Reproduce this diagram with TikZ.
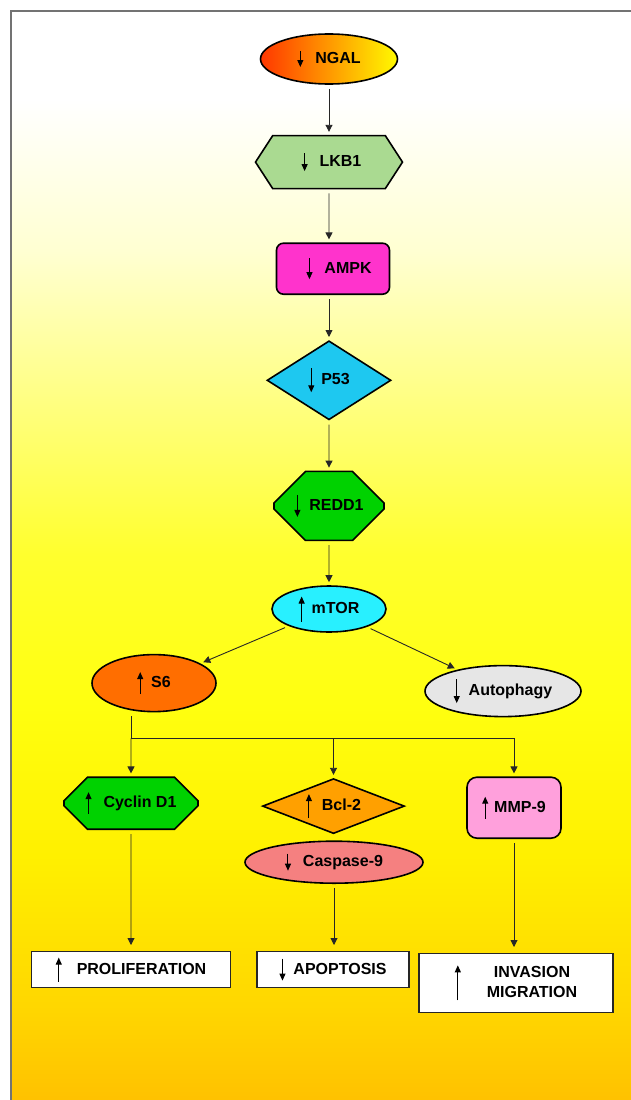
\documentclass[tikz,border=0pt]{standalone}
\usepackage{fontspec}
\setmainfont{Liberation Sans}
\usepackage{tikz}
\usetikzlibrary{shapes.geometric, shapes.misc, shapes.symbols, arrows.meta, positioning, calc}

\definecolor{ngalA}{RGB}{255,55,0}
\definecolor{ngalB}{RGB}{255,250,0}
\definecolor{lkbgreen}{RGB}{170,218,145}
\definecolor{ampkpink}{RGB}{255,51,204}
\definecolor{p53blue}{RGB}{30,200,240}
\definecolor{reddgreen}{RGB}{0,210,0}
\definecolor{mtorcyan}{RGB}{40,240,255}
\definecolor{s6orange}{RGB}{255,110,0}
\definecolor{autogray}{RGB}{230,230,230}
\definecolor{bclorange}{RGB}{255,160,0}
\definecolor{caspred}{RGB}{245,128,128}
\definecolor{mmppink}{RGB}{255,160,220}

\pgfdeclareverticalshading{paper}{100bp}{rgb(0bp)=(1,0.75,0); rgb(25bp)=(1,0.75,0); rgb(29.6bp)=(1,0.84,0); rgb(36.5bp)=(1,0.94,0); rgb(43.4bp)=(1,1,0.06); rgb(50.3bp)=(1,1,0.18); rgb(57.1bp)=(1,1,0.5); rgb(64bp)=(1,1,0.82); rgb(71bp)=(1,1,1); rgb(100bp)=(1,1,1)}

\tikzstyle{base} = [draw=black, line width=1.6pt, font=\bfseries\fontsize{16}{20}\selectfont, inner sep=1pt, text centered]
\tikzstyle{oval} = [base, ellipse]
\tikzstyle{hexa} = [base, signal, signal to=west and east, signal pointer angle=114]
\tikzstyle{octo} = [base, chamfered rectangle]
\tikzstyle{rhomb} = [base, diamond]
\tikzstyle{roundbox} = [base, rectangle, rounded corners=7pt]
\tikzstyle{outcome} = [base, rectangle, line width=1.2pt, draw=black!85, fill=white]
\tikzstyle{arrow} = [line width=0.9pt, draw=black!85, -{Triangle[length=7pt,width=7pt]}, shorten <=4pt, shorten >=3pt]
\tikzstyle{link} = [line width=0.9pt, draw=black!85, shorten <=4pt]

% small up / down arrows written before the labels
\newcommand{\dnar}[1]{\tikz[baseline={-#1pt/2-4.6pt}]\draw[line width=1pt, -{Triangle[length=7pt,width=6pt]}] (0pt,0pt) -- (0pt,-#1pt);}
\newcommand{\upar}[1]{\tikz[baseline={-#1pt/2-4.6pt}]\draw[line width=1pt, -{Triangle[length=7pt,width=6pt]}] (0pt,-#1pt) -- (0pt,0pt);}

\begin{document}
\begin{tikzpicture}[x=1pt, y=1pt]
    \useasboundingbox (0,0) rectangle (631,-1100);
    \begin{scope}
        \clip (0,0) rectangle (631,-1100);
        \shadedraw[shading=paper, draw=black!55, line width=1.4pt] (11,-11) rectangle (640,-1110);
    \end{scope}

    \node[oval, minimum width=137pt, minimum height=50pt, left color=ngalA, right color=ngalB] (ngal) at (329,-59) {\dnar{16}\hspace{12pt}NGAL\hspace{8pt}};
    \node[hexa, fill=lkbgreen, minimum width=147pt, minimum height=53pt, below=50pt of ngal] (lkb) {\hspace*{5pt}\dnar{18}\hspace{12pt}LKB1};
    \node[roundbox, fill=ampkpink, minimum width=113pt, minimum height=51pt, below=53pt of lkb, xshift=4pt] (ampk) {\hspace*{12pt}\dnar{21}\hspace{12pt}AMPK};
    \node[rhomb, fill=p53blue, minimum width=124pt, minimum height=79pt, aspect=1.56, below=45pt of ampk, xshift=-4pt] (p53) {\dnar{24}\hspace{7pt}P53\hspace{17pt}};
    \node[octo, chamfered rectangle xsep=19pt, chamfered rectangle ysep=19pt, fill=reddgreen, minimum width=110pt, minimum height=69pt, below=50pt of p53] (redd) {\dnar{22}\hspace{9pt}REDD1\hspace{19pt}};
    \node[oval, fill=mtorcyan, minimum width=114pt, minimum height=46pt, below=44pt of redd] (mtor) {\upar{25}\hspace{7pt}mTOR\hspace{12pt}};

    \node[oval, fill=s6orange, minimum width=124pt, minimum height=57pt, below=21pt of mtor, xshift=-175pt] (s6) {\upar{22}\hspace{8pt}S6\hspace{14pt}};
    \node[oval, fill=autogray, minimum width=156pt, minimum height=51pt, below=32pt of mtor, xshift=174pt] (autoph) {\dnar{24}\hspace{9pt}Autophagy\hspace{17pt}};

    \node[octo, chamfered rectangle xsep=14pt, chamfered rectangle ysep=11pt, fill=reddgreen, minimum width=134pt, minimum height=52pt, below=64pt of s6, xshift=-23pt] (cyclin) {\upar{22}\hspace{12pt}Cyclin D1\hspace{19pt}};
    \node[rhomb, fill=bclorange, minimum width=142pt, minimum height=55pt, aspect=2.54, below=145pt of mtor, xshift=4.5pt] (bcl) {\upar{24}\hspace{10pt}Bcl-2\hspace{15pt}};
    \node[oval, fill=caspred, minimum width=178pt, minimum height=42pt, below=6pt of bcl, xshift=0.5pt] (casp) {\dnar{17}\hspace{12pt}Caspase-9\hspace{13pt}};
    \node[roundbox, rounded corners=10pt, fill=mmppink, minimum width=94pt, minimum height=61pt, below=59pt of autoph, xshift=11pt] (mmp) {\upar{22}\hspace{6pt}MMP-9\hspace{13pt}};

    \node[outcome, minimum width=199pt, minimum height=36pt, below=121pt of cyclin] (prolif) {\upar{24}\hspace{15pt}PROLIFERATION\hspace{22pt}};
    \node[outcome, minimum width=152pt, minimum height=36pt, below=67pt of casp, xshift=-1pt] (apop) {\dnar{22}\hspace{8pt}APOPTOSIS\hspace{22pt}};
    \node[outcome, minimum width=194pt, minimum height=59pt, below=114pt of mmp, xshift=2pt] (inva) {\upar{35}\hspace{26pt}\begin{tabular}{@{}c@{}}INVASION\\MIGRATION\end{tabular}\hspace{33pt}};

    \draw[arrow] (ngal) -- (ngal |- lkb.north);
    \draw[arrow] (lkb) -- (lkb |- ampk.north);
    \draw[arrow] (ampk.south -| p53) -- (p53);
    \draw[arrow] (p53) -- (redd);
    \draw[arrow] (redd) -- (mtor);
    \draw[arrow] (mtor) -- (s6);
    \draw[arrow] (mtor) -- (autoph);

    \coordinate[below=26pt of s6.south] (split);
    \draw[link] (s6.south -| cyclin) -- (split -| cyclin) -- (split -| mmp);
    \draw[arrow, shorten <=0pt] (split -| cyclin) -- (cyclin);
    \draw[arrow, shorten <=0pt] (split -| bcl) -- (bcl);
    \draw[arrow, shorten <=0pt] (split -| mmp) -- (mmp);

    \draw[arrow, shorten >=6pt] (cyclin) -- (prolif);
    \draw[arrow, shorten >=6pt] (casp) -- (casp |- apop.north);
    \draw[arrow, shorten >=6pt] (mmp) -- (mmp |- inva.north);
\end{tikzpicture}
\end{document}
